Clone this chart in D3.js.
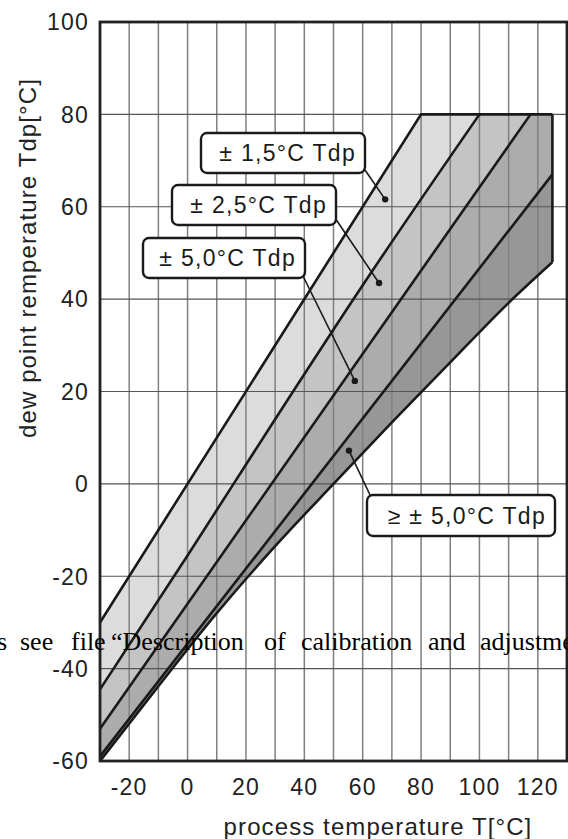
<!DOCTYPE html>
<html><head><meta charset="utf-8">
<script src="https://cdn.jsdelivr.net/npm/d3@7"></script>
<style>
html,body{margin:0;padding:0;background:#fff;}
svg{display:block;}
</style></head>
<body>
<svg id="chart" width="568" height="839"></svg>
<script>
// ---- data ----
const xTicks = [-20, 0, 20, 40, 60, 80, 100, 120];
const yTicks = [-60, -40, -20, 0, 20, 40, 60, 80, 100];
const xGrid = [-20, -10, 0, 10, 20, 30, 40, 50, 60, 70, 80, 90, 100, 110, 120];
const yGrid = [-40, -20, 0, 20, 40, 60, 80];
// boundary lines [process T, dew point Td]
const lineTop = [[-30, -30], [80, 80], [125, 80]];
const lineA = [[-30, -44.5], [0, -15.5], [30, 14], [60, 43], [100, 80]];
const lineB = [[-30, -53], [117.5, 80]];
const lineC = [[-30, -59], [125, 67]];
const lineBottom = [[-30, -60], [-10, -43.8], [10, -28], [30, -13.5], [50, 0], [70, 13.3], [90, 26.3], [110, 39.2], [125, 48]];
const rightEdge = [[125, 80], [125, 48]];
const bandColors = ["#dcdcdc", "#c4c4c4", "#acacac", "#979797"];
const labels = ["± 1,5°C Tdp", "± 2,5°C Tdp", "± 5,0°C Tdp", "≥ ± 5,0°C Tdp"];
const dots = [[67.7, 61.6], [65.6, 43.5], [57.3, 22.3], [55.3, 7.2]];
const xTitle = "process temperature T[°C]";
const yTitle = "dew point remperature Tdp[°C]";
const overlayWords = ["s", "see", "file", "“Description", "of", "calibration", "and", "adjustme"];

// ---- layout ----
const svg = d3.select("#chart");
const x = d3.scaleLinear().domain([-30, 130]).range([100, 567]);
const y = d3.scaleLinear().domain([-60, 100]).range([761, 22]);
const line = d3.line().x(d => x(d[0])).y(d => y(d[1]));
const curveLine = d3.line().x(d => x(d[0])).y(d => y(d[1])).curve(d3.curveMonotoneX);
const cont = p => p.replace(/^M/, "L");

// fills: stacked polygons (darkest first)
const closeTop = pts => cont(line(pts.concat([[80, 80], [-30, -30]]))) + "Z";
svg.append("path").attr("d", curveLine(lineBottom) + closeTop([[125, 80]])).attr("fill", bandColors[3]);
svg.append("path").attr("d", line(lineC) + closeTop([[125, 80]])).attr("fill", bandColors[2]);
svg.append("path").attr("d", line(lineB) + closeTop([])).attr("fill", bandColors[1]);
svg.append("path").attr("d", curveLine(lineA) + closeTop([])).attr("fill", bandColors[0]);

// grid
svg.append("g").selectAll("line").data(xGrid).join("line")
  .attr("x1", d => x(d)).attr("x2", d => x(d)).attr("y1", y(100)).attr("y2", y(-60))
  .attr("stroke", "#808080").attr("stroke-width", 1.5);
svg.append("g").selectAll("line").data(yGrid).join("line")
  .attr("y1", d => y(d)).attr("y2", d => y(d)).attr("x1", x(-30)).attr("x2", x(130))
  .attr("stroke", "#555").attr("stroke-width", 1.2);

// boundary lines
const bl = svg.append("g").attr("fill", "none").attr("stroke", "#1a1a1a").attr("stroke-width", 2.6).attr("stroke-linejoin", "miter");
bl.append("path").attr("d", line(lineTop));
bl.append("path").attr("d", curveLine(lineA));
bl.append("path").attr("d", line(lineB));
bl.append("path").attr("d", line(lineC));
bl.append("path").attr("d", curveLine(lineBottom));
bl.append("path").attr("d", line(rightEdge));

// frame
svg.append("rect").attr("x", x(-30)).attr("y", y(100)).attr("width", x(130) - x(-30)).attr("height", y(-60) - y(100))
  .attr("fill", "none").attr("stroke", "#222").attr("stroke-width", 2.8);

// axes labels
const font = "'Liberation Sans', Arial, sans-serif";
svg.append("g").selectAll("text").data(yTicks).join("text")
  .attr("x", 89).attr("y", d => y(d)).attr("dy", "0.36em").attr("text-anchor", "end")
  .attr("font-family", font).attr("font-size", 23).attr("letter-spacing", 1.2).attr("fill", "#222").text(d => d);
svg.append("g").selectAll("text").data(xTicks).join("text")
  .attr("x", d => x(d)).attr("y", 795).attr("text-anchor", "middle")
  .attr("font-family", font).attr("font-size", 23).attr("letter-spacing", 1.2).attr("fill", "#222").text(d => d);
svg.append("text").attr("x", 378).attr("y", 835).attr("text-anchor", "middle")
  .attr("font-family", font).attr("font-size", 24).attr("letter-spacing", 1.1).attr("fill", "#222").text(xTitle);
svg.append("text").attr("transform", "translate(36,258) rotate(-90)").attr("text-anchor", "middle")
  .attr("font-family", font).attr("font-size", 24).attr("letter-spacing", 1.1).attr("fill", "#222").text(yTitle);

// label boxes
const boxes = [
  {x0: 201, y0: 133, w: 164, h: 40, lx: 365, ly: 170},
  {x0: 172, y0: 185, w: 164, h: 40, lx: 335, ly: 218},
  {x0: 143, y0: 238, w: 162, h: 40, lx: 303, ly: 276},
  {x0: 367, y0: 495, w: 188, h: 41, lx: 371, ly: 497}
];
boxes.forEach((b, i) => {
  svg.append("line").attr("x1", b.lx).attr("y1", b.ly).attr("x2", x(dots[i][0])).attr("y2", y(dots[i][1]))
    .attr("stroke", "#1a1a1a").attr("stroke-width", 1.6);
  svg.append("circle").attr("cx", x(dots[i][0])).attr("cy", y(dots[i][1])).attr("r", 3.2).attr("fill", "#1a1a1a");
  svg.append("rect").attr("x", b.x0).attr("y", b.y0).attr("width", b.w).attr("height", b.h).attr("rx", 6)
    .attr("fill", "#fff").attr("stroke", "#1a1a1a").attr("stroke-width", 2.4);
  svg.append("text").attr("x", b.x0 + b.w - 9).attr("y", b.y0 + b.h / 2).attr("dy", "0.36em").attr("text-anchor", "end")
    .attr("font-family", font).attr("font-size", 23).attr("letter-spacing", 1.3).attr("fill", "#1a1a1a").text(labels[i]);
});

// overlay stray text (cut at the page edges as in the reference)
const wordX = [-3, 20, 71, 111, 264, 301, 428, 480];
svg.append("g").selectAll("text").data(overlayWords).join("text")
  .attr("x", (d, i) => wordX[i]).attr("y", 650)
  .attr("font-family", "'Liberation Serif', 'Times New Roman', serif").attr("font-size", 26).attr("fill", "#000").text(d => d);
</script>
</body></html>
